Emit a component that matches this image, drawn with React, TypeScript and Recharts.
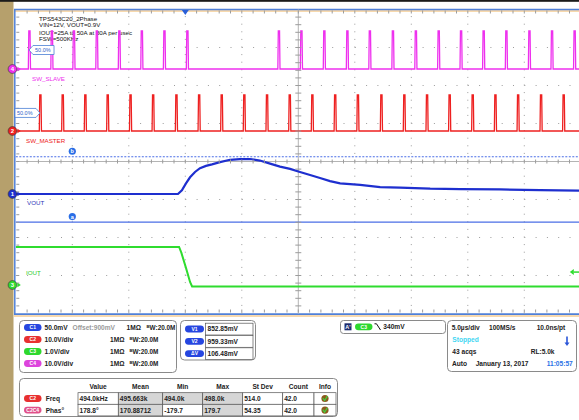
import React from "react";
import { ComposedChart, Line, Scatter, XAxis, YAxis, ReferenceLine, ReferenceDot } from "recharts";

// scope capture: TPS543C20 2-phase load step, 5 µs/div, 10 divisions
const majorTimes = [5, 10, 15, 20, 30, 35, 40, 45];
const majorDivs = [-3, -2, -1, 1, 2, 3];

// switch-node pulses (rising edge time, µs)
const slavePulseTimes = [1.17, 3.16, 5.11, 7.14, 9.13, 11.12, 13.12, 15.15, 23.25, 25.24, 27.27, 29.31, 31.3, 33.34, 35.37, 37.39, 39.37, 41.37, 43.38, 45.42, 47.42, 49.42];
const slaveHigh = 10; // V
const masterPulseTimes = [2.14, 4.12, 6.12, 8.1, 10.12, 12.12, 14.18, 16.19, 18.19, 20.19, 22.2, 24.21, 26.21, 28.23, 30.24, 32.32, 34.35, 36.36, 38.36, 40.4, 42.41, 44.42, 46.45, 48.45];
const masterHigh = 9.5; // V

// VOUT (mV)
const voutTimes = [0, 14.35, 14.7, 15.06, 15.42, 15.86, 16.3, 16.83, 17.36, 18.07, 18.96, 19.84, 20.73, 21.6, 22.5, 23.38, 24.27, 25.15, 26.04, 26.92, 27.81, 28.7, 30.47, 32.24, 34.0, 36.67, 39.32, 42.85, 46.4, 50];
const voutMv = [900, 900, 905, 914, 922, 929, 934, 937, 939, 942, 945, 946, 946, 944, 940, 936, 933, 929, 925, 921, 917, 914, 912, 909, 908.5, 907, 906.5, 906, 905, 904.5];

// IOUT probe (V)
const ioutTimes = [0, 14.45, 14.65, 15.06, 15.42, 15.6, 50];
const ioutV = [1.0, 1.0, 0.85, 0.45, 0.08, -0.04, -0.04];

const cursorA = 863; // mV
const cursorB = 949; // mV
const triggerTime = 15;
const triggerLevel = 0.34; // V on C3

// channel vertical setup: offset at marker, units per div, marker position (div from centre)
const ch = {
  c1: { color: "#1e2fcf", offset: 900, scale: 50, pos: -0.855, label: "1" },
  c2: { color: "#ee2020", offset: 0, scale: 10, pos: 0.803, label: "2" },
  c3: { color: "#2fdc2f", offset: 0, scale: 1, pos: -3.25, label: "3" },
  c4: { color: "#ee30ee", offset: 0, scale: 10, pos: 2.434, label: "4" },
};
const dom = (c: { offset: number; scale: number; pos: number }) => [c.offset - (4 + c.pos) * c.scale, c.offset + (4 - c.pos) * c.scale];

const FONT = "'Liberation Sans', Arial, sans-serif";
const GRID = "#9c9c9c";

function pulseTrace(times: number[], high: number) {
  const pts = [{ t: 0, v: 0 }];
  times.forEach((t) => {
    pts.push({ t: t - 0.06, v: 0 }, { t: t - 0.02, v: high }, { t: t + 0.09, v: high }, { t: t + 0.13, v: 0 });
  });
  pts.push({ t: 50, v: 0 });
  return pts;
}

const slaveData = pulseTrace(slavePulseTimes, slaveHigh);
const masterData = pulseTrace(masterPulseTimes, masterHigh);
const voutData = voutTimes.map((t, i) => ({ t, v: voutMv[i] }));
const ioutData = ioutTimes.map((t, i) => ({ t, v: ioutV[i] }));

const minorT = Array.from({ length: 49 }, (_, i) => i + 1);
const minorD = Array.from({ length: 39 }, (_, i) => Math.round((-3.8 + i * 0.2) * 10) / 10);

const tickShape = (dx1: number, dy1: number, dx2: number, dy2: number) => (p: any) => (
  <line x1={p.cx + dx1} y1={p.cy + dy1} x2={p.cx + dx2} y2={p.cy + dy2} stroke={GRID} strokeWidth={1} />
);

const chanMarker = (color: string, label: string) => (p: any) => {
  const x = p.cx - 3.3;
  return (
    <g>
      <polygon points={`${p.cx + 1.6},${p.cy - 2.2} ${p.cx + 5},${p.cy} ${p.cx + 1.6},${p.cy + 2.2}`} fill={color} />
      <circle cx={x} cy={p.cy} r={4.4} fill={color} stroke="#333" strokeWidth={0.6} />
      <text x={x} y={p.cy + 2} fontSize={6} fontWeight="bold" fill="#fff" textAnchor="middle" fontFamily={FONT}>{label}</text>
    </g>
  );
};

const pctBox = (dir: number) => (p: any) => {
  const { cx, cy } = p;
  const x0 = cx + dir * 4;
  const x1 = cx + dir * 25;
  return (
    <g>
      <path d={`M${cx},${cy} L${x0},${cy - 4.5} L${x1},${cy - 4.5} L${x1},${cy + 4.5} L${x0},${cy + 4.5} Z`} fill="#fff" stroke="#4a7fd4" strokeWidth={0.8} />
      <text x={Math.min(x0, x1) + 2} y={cy + 2} fontSize={5.5} fill="#2f62c8" fontFamily={FONT}>50.0%</text>
    </g>
  );
};

const cursorTag = (letter: string) => (p: any) => (
  <g>
    <circle cx={p.cx} cy={p.cy - 5.5} r={3.6} fill="#2a6ee6" />
    <text x={p.cx} y={p.cy - 3.6} fontSize={5.5} fontWeight="bold" fill="#fff" textAnchor="middle" fontFamily={FONT}>{letter}</text>
  </g>
);

function Pill({ x, y, w = 17.5, fill, label }: { x: number; y: number; w?: number; fill: string; label: string }) {
  return (
    <g>
      <rect x={x} y={y - 3.4} width={w} height={6.8} rx={3.4} fill={fill} />
      <text x={x + w / 2} y={y + 1.8} fontSize={5} fill="#fff" textAnchor="middle" fontWeight="bold" fontFamily={FONT}>{label}</text>
    </g>
  );
}

function T({ x, y, fill = "#222", children, anchor = "start" }: any) {
  return (
    <text x={x} y={y + 2.4} fontSize={6.6} fontWeight="bold" fill={fill} fontFamily={FONT} textAnchor={anchor}>{children}</text>
  );
}

function BW({ x, y }: { x: number; y: number }) {
  return (
    <text x={x} y={y + 2.4} fontSize={6.4} fontWeight="bold" fill="#222" fontFamily={FONT}>
      <tspan fontSize={4.3} dy={-2}>B</tspan><tspan dy={2}>W</tspan>:20.0M
    </text>
  );
}

const chanRows = [
  { name: "C1", color: "#2646e0", scale: "50.0mV", imp: 126.5, bw: 146.5 },
  { name: "C2", color: "#e83030", scale: "10.0V/div", imp: 110, bw: 129.5 },
  { name: "C3", color: "#2ed82e", scale: "1.0V/div", imp: 110, bw: 129.5 },
  { name: "C4", color: "#dd44dd", scale: "10.0V/div", imp: 110, bw: 129.5 },
];
const cursorRows = [
  { name: "V1", value: "852.85mV" },
  { name: "V2", value: "959.33mV" },
  { name: "ΔV", value: "106.48mV" },
];
const measHeaders = ["Value", "Mean", "Min", "Max", "St Dev", "Count", "Info"];
const measCols = [78, 118.3, 162.7, 202.7, 242.7, 282.7, 314, 336];
const measRows = [
  { pill: "C2", color: "#e83030", name: "Freq", cells: ["494.0kHz", "495.663k", "494.0k", "498.0k", "514.0", "42.0"], gray: [1, 2, 3] },
  { pill: "C2C4", color: "#e0508a", name: "Phas°", cells: ["178.8°", "170.88712", "-179.7", "179.7", "54.35", "42.0"], gray: [1, 3] },
];

function Background() {
  return (
    <svg width={579} height={420} style={{ position: "absolute", left: 0, top: 0 }}>
      <rect x={0} y={0} width={579} height={420} fill="#fff" />
      <rect x={0} y={0} width={13.5} height={420} fill="#b6a06c" />
      <rect x={0} y={0} width={579} height={1.8} fill="#1b1b1b" />
      {/* graticule frame */}
      <line x1={14} y1={11} x2={579} y2={11} stroke="#efb35e" strokeWidth={1} />
      <line x1={14} y1={9.5} x2={579} y2={9.5} stroke="#4f80d8" strokeWidth={1.5} />
      <line x1={14} y1={316} x2={579} y2={316} stroke="#efb35e" strokeWidth={1} />
      <line x1={14} y1={314.2} x2={579} y2={314.2} stroke="#4f80d8" strokeWidth={1.8} />
      <line x1={14.8} y1={9} x2={14.8} y2={315} stroke="#4f80d8" strokeWidth={1.5} />

      {/* annotation */}
      <g fontFamily={FONT} fontSize={6.2} fill="#111">
        <text x={39} y={20.6}>TPS543C20_2Phase</text>
        <text x={39} y={27.4}>VIN=12V, VOUT=0.9V</text>
        <text x={39} y={34.6}>IOUT=25A to 50A at 30A per usec</text>
        <text x={39} y={41.4}>FSW=500KHz</text>
        <text x={32} y={81.3} fill={ch.c4.color}>SW_SLAVE</text>
        <text x={26} y={143.3} fill={ch.c2.color}>SW_MASTER</text>
        <text x={27} y={205.3} fill="#2a36b8">VOUT</text>
        <text x={26} y={275.3} fill="#2ccc2c">IOUT</text>
      </g>

      {/* channel settings box */}
      <rect x={19.5} y={320.5} width={157} height={52} rx={4} fill="#fff" stroke="#8a8a8a" />
      {chanRows.map((r, i) => {
        const y = 327.5 + i * 12;
        return (
          <g key={r.name}>
            <Pill x={24} y={y} fill={r.color} label={r.name} />
            <T x={44.5} y={y}>{r.scale}</T>
            {i === 0 && <T x={72.5} y={y} fill="#9a9a9a">Offset:900mV</T>}
            <T x={r.imp} y={y}>1MΩ</T>
            <BW x={r.bw} y={y} />
          </g>
        );
      })}

      {/* cursor box */}
      <rect x={180.5} y={320.5} width={75} height={39.5} rx={4} fill="#fff" stroke="#8a8a8a" />
      {cursorRows.map((r, i) => {
        const y = 329 + i * 12.3;
        return (
          <g key={r.name}>
            <Pill x={185} y={y} w={19} fill="#2646e0" label={r.name} />
            <rect x={205.5} y={y - 5.8} width={47.5} height={11.8} fill="#fff" stroke="#555" strokeWidth={0.7} />
            <T x={207.5} y={y}>{r.value}</T>
          </g>
        );
      })}

      {/* measurement table */}
      <rect x={19.5} y={378.5} width={318} height={38} rx={4} fill="#fff" stroke="#8a8a8a" />
      {measHeaders.map((h, i) => (
        <T key={h} x={(measCols[i] + measCols[i + 1]) / 2} y={386.7} anchor="middle">{h}</T>
      ))}
      {measRows.map((r, ri) => {
        const y0 = 392.7 + ri * 11.6;
        const yc = y0 + 5.8;
        return (
          <g key={r.name}>
            <Pill x={24} y={yc} fill={r.color} label={r.pill} />
            <T x={45.7} y={yc}>{r.name}</T>
            {r.cells.map((c, ci) => (
              <g key={ci}>
                <rect x={measCols[ci]} y={y0} width={measCols[ci + 1] - measCols[ci]} height={11.6} fill={r.gray.includes(ci) ? "#d6d6d6" : "#fff"} stroke="#555" strokeWidth={0.7} />
                <T x={measCols[ci] + 1.5} y={yc}>{c}</T>
              </g>
            ))}
            <rect x={measCols[6]} y={y0} width={measCols[7] - measCols[6]} height={11.6} fill="#fff" stroke="#555" strokeWidth={0.7} />
            <circle cx={325} cy={yc} r={3.6} fill="#8c5a1c" />
            <path d={`M322.8,${yc - 0.5} L324.6,${yc + 2} L327.4,${yc - 2.4}`} stroke="#3fd23f" strokeWidth={1.2} fill="none" />
          </g>
        );
      })}

      {/* trigger box */}
      <rect x={340.5} y={320.5} width={105} height={13} rx={3} fill="#fff" stroke="#8a8a8a" />
      <rect x={344.5} y={323.3} width={7} height={7} fill="#1d2c6e" />
      <text x={348} y={329.3} fontSize={5.5} fontWeight="bold" fill="#fff" textAnchor="middle" fontFamily={FONT}>A'</text>
      <Pill x={355} y={326.8} fill="#2ed82e" label="C3" />
      <path d="M374.5,323.8 L376.5,323.8 L380.5,330" stroke="#111" strokeWidth={1} fill="none" />
      <T x={383.3} y={326.8}>340mV</T>

      {/* timebase box */}
      <rect x={447.5} y={320.5} width={129} height={51} rx={4} fill="#fff" stroke="#8a8a8a" />
      <T x={451.7} y={327.3}>5.0µs/div</T>
      <T x={489} y={327.3}>100MS/s</T>
      <T x={536.7} y={327.3}>10.0ns/pt</T>
      <T x={452.3} y={339.3} fill="#3fd6f2">Stopped</T>
      <path d="M567,336.5 L567,344" stroke="#2a55d8" strokeWidth={1.6} />
      <polygon points="564.5,342.5 569.5,342.5 567,346" fill="#2a55d8" />
      <T x={452.3} y={351.3}>43 acqs</T>
      <T x={530.7} y={351.3}>RL:5.0k</T>
      <T x={452} y={363.3}>Auto</T>
      <T x={475.7} y={363.3}>January 13, 2017</T>
      <T x={546.7} y={363.3} fill="#2a72e6">11:05:57</T>
    </svg>
  );
}

export default function App() {
  return (
    <div style={{ position: "absolute", left: 0, top: 0, width: 579, height: 420, overflow: "hidden", background: "#fff" }}>
      <Background />
      <div style={{ position: "absolute", left: 0, top: 0 }}>
        <ComposedChart width={600} height={420} margin={{ top: 9.5, right: 19.2, bottom: 106.5, left: 15.8 }}>
          <XAxis type="number" dataKey="t" domain={[0, 50]} allowDataOverflow hide />
          <YAxis yAxisId="div" type="number" dataKey="d" domain={[-4, 4]} allowDataOverflow hide />
          <YAxis yAxisId="c1" type="number" domain={dom(ch.c1)} allowDataOverflow hide />
          <YAxis yAxisId="c2" type="number" domain={dom(ch.c2)} allowDataOverflow hide />
          <YAxis yAxisId="c3" type="number" domain={dom(ch.c3)} allowDataOverflow hide />
          <YAxis yAxisId="c4" type="number" domain={dom(ch.c4)} allowDataOverflow hide />

          {majorTimes.map((t) => (
            <ReferenceLine key={"vx" + t} x={t} yAxisId="div" stroke={GRID} strokeWidth={1} strokeDasharray="1 6.6" />
          ))}
          {majorDivs.map((d) => (
            <ReferenceLine key={"hy" + d} y={d} yAxisId="div" stroke={GRID} strokeWidth={1} strokeDasharray="1 10.3" />
          ))}
          <ReferenceLine x={25} yAxisId="div" stroke="#b4b4b4" strokeWidth={1} />
          <ReferenceLine y={0} yAxisId="div" stroke="#b4b4b4" strokeWidth={1} />

          <Scatter yAxisId="div" dataKey="d" data={minorT.map((t) => ({ t, d: 0 }))} shape={tickShape(0, -2, 0, 2)} isAnimationActive={false} />
          <Scatter yAxisId="div" dataKey="d" data={minorD.map((d) => ({ t: 25, d }))} shape={tickShape(-3, 0, 3, 0)} isAnimationActive={false} />
          <Scatter yAxisId="div" dataKey="d" data={minorT.map((t) => ({ t, d: 4 }))} shape={tickShape(0, 1, 0, 4)} isAnimationActive={false} />
          <Scatter yAxisId="div" dataKey="d" data={minorT.map((t) => ({ t, d: -4 }))} shape={tickShape(0, -4, 0, -1)} isAnimationActive={false} />
          <Scatter yAxisId="div" dataKey="d" data={minorD.map((d) => ({ t: 0, d }))} shape={tickShape(0.5, 0, 3.5, 0)} isAnimationActive={false} />

          <ReferenceLine y={cursorB} yAxisId="c1" stroke="#4a6ee6" strokeWidth={1} strokeDasharray="2 1.5" />
          <ReferenceLine y={cursorA} yAxisId="c1" stroke="#4a6ee6" strokeWidth={1.2} />

          <Line yAxisId="c4" data={slaveData} dataKey="v" type="linear" stroke={ch.c4.color} strokeWidth={1.3} dot={false} isAnimationActive={false} />
          <Line yAxisId="c2" data={masterData} dataKey="v" type="linear" stroke={ch.c2.color} strokeWidth={1.3} dot={false} isAnimationActive={false} />
          <Line yAxisId="c1" data={voutData} dataKey="v" type="linear" stroke={ch.c1.color} strokeWidth={2.2} dot={false} isAnimationActive={false} />
          <Line yAxisId="c3" data={ioutData} dataKey="v" type="linear" stroke={ch.c3.color} strokeWidth={2} dot={false} isAnimationActive={false} />

          <ReferenceDot x={5} y={cursorB} yAxisId="c1" ifOverflow="visible" shape={cursorTag("b")} />
          <ReferenceDot x={5} y={cursorA} yAxisId="c1" ifOverflow="visible" shape={cursorTag("a")} />
          <ReferenceDot x={slavePulseTimes[0]} y={slaveHigh / 2} yAxisId="c4" ifOverflow="visible" shape={pctBox(1)} />
          <ReferenceDot x={masterPulseTimes[0]} y={masterHigh / 2} yAxisId="c2" ifOverflow="visible" shape={pctBox(-1)} />
          <ReferenceDot x={triggerTime} y={4} yAxisId="div" ifOverflow="visible"
            shape={(p: any) => <polygon points={`${p.cx - 3.5},${p.cy + 0.5} ${p.cx + 3.5},${p.cy + 0.5} ${p.cx},${p.cy + 5.5}`} fill="#2a5fd8" />} />
          <ReferenceDot x={50} y={triggerLevel} yAxisId="c3" ifOverflow="visible"
            shape={(p: any) => (
              <g>
                <line x1={p.cx - 7} y1={p.cy} x2={p.cx - 1} y2={p.cy} stroke={ch.c3.color} strokeWidth={1.5} />
                <polygon points={`${p.cx - 11},${p.cy} ${p.cx - 7},${p.cy - 3} ${p.cx - 7},${p.cy + 3}`} fill={ch.c3.color} />
              </g>
            )} />
          {(["c4", "c2", "c1", "c3"] as const).map((k) => (
            <ReferenceDot key={k} x={0} y={ch[k].offset} yAxisId={k} ifOverflow="visible" shape={chanMarker(ch[k].color, ch[k].label)} />
          ))}
        </ComposedChart>
      </div>
    </div>
  );
}
